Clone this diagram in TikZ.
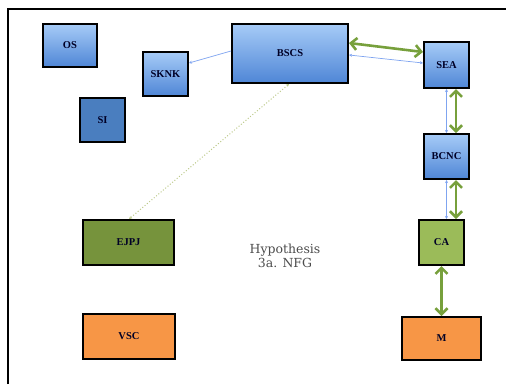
\documentclass[tikz,border=0pt]{standalone}
\usepackage{fontspec}
\setmainfont{Liberation Serif}
\newfontfamily\hypfont{DejaVu Serif}
\usetikzlibrary{arrows.meta,shadows}
\definecolor{bluetop}{HTML}{A6CBF7}
\definecolor{bluebot}{HTML}{4F86D6}
\definecolor{bluedark}{HTML}{4A7EBF}
\definecolor{greendark}{HTML}{76933C}
\definecolor{greenlight}{HTML}{9BBB59}
\definecolor{orangebox}{HTML}{F79646}
\definecolor{linkgreen}{HTML}{77A03C}
\definecolor{linkblue}{HTML}{7FA4F0}
\definecolor{dotgreen}{HTML}{BCC98A}
\tikzset{
  box/.style={draw=black, line width=2pt, rectangle, inner sep=0pt,
    font=\fontsize{10.5}{12}\selectfont\bfseries, text=black!85!blue,
    drop shadow={shadow xshift=0.8pt, shadow yshift=-0.8pt, opacity=0.35}},
  bluebox/.style={box, top color=bluetop, bottom color=bluebot},
  darkbluebox/.style={box, fill=bluedark},
  dgreenbox/.style={box, fill=greendark},
  lgreenbox/.style={box, fill=greenlight},
  orangeb/.style={box, fill=orangebox},
  thicklink/.style={draw=linkgreen, line width=2.6pt,
    {Straight Barb[length=6pt,width=12pt]}-{Straight Barb[length=6pt,width=12pt]}},
  thinlink/.style={draw=linkblue, line width=0.7pt,
    {Stealth[length=3pt,width=3pt]}-{Stealth[length=3pt,width=3pt]}},
  dotlink/.style={draw=dotgreen, line width=1pt, dotted,
    {Stealth[length=3pt,width=3pt]}-{Stealth[length=3pt,width=3pt]}},
}
\begin{document}
\begin{tikzpicture}[x=1pt,y=-1pt]
\useasboundingbox (0,0) rectangle (506,384);
% page frame (left and top edges)
\draw[line width=1.4pt, black] (8,384) -- (8,9) -- (506,9);

% nodes
\node[bluebox, minimum width=54, minimum height=43] (os) at (70,45.5) {OS};
\node[bluebox, minimum width=45, minimum height=44] (sknk) at (165.5,74) {SKNK};
\node[darkbluebox, minimum width=45, minimum height=44] (si) at (102.5,120) {SI};
\node[bluebox, minimum width=116, minimum height=59] (bscs) at (290,53.5) {BSCS};
\node[bluebox, minimum width=45, minimum height=46] (sea) at (446.5,65) {SEA};
\node[bluebox, minimum width=45, minimum height=45] (bcnc) at (446.5,156.5) {BCNC};
\node[dgreenbox, minimum width=91, minimum height=45] (ejpj) at (128.5,242.5) {EJPJ};
\node[orangeb, minimum width=92, minimum height=45] (vsc) at (129,336.5) {VSC};
\node[lgreenbox, minimum width=45, minimum height=45] (ca) at (441.5,242.5) {CA};
\node[orangeb, minimum width=79, minimum height=43] (m) at (441.5,338.5) {M};

\node[font=\hypfont\fontsize{12.5}{14.5}\selectfont, text=black!70, align=center] (hyp) at (285,256)
  {Hypothesis\\3a. NFG};

% connectors
\draw[draw=linkblue, line width=0.7pt, {Stealth[length=3pt,width=3pt]}-]
  ([yshift=11pt]sknk.east) -- ([yshift=2.5pt]bscs.west);
\draw[thinlink] ([yshift=-1.5pt]bscs.east) -- ([yshift=2pt]sea.west);
\draw[thicklink] ([yshift=10.5pt]bscs.east) -- ([yshift=13pt]sea.west);
\draw[thinlink] (sea.south) -- (bcnc.north);
\draw[thicklink] ([xshift=9.5pt]sea.south) -- ([xshift=9.5pt]bcnc.north);
\draw[thinlink] (bcnc.south) -- (bcnc.south |- ca.north);
\draw[thicklink] ([xshift=9.5pt]bcnc.south) -- ([xshift=9.5pt]bcnc.south |- ca.north);
\draw[thicklink] (ca.south) -- (m.north);
\draw[dotlink] ([xshift=-1pt]bscs.south) -- ([xshift=0.5pt]ejpj.north);
\end{tikzpicture}
\end{document}
